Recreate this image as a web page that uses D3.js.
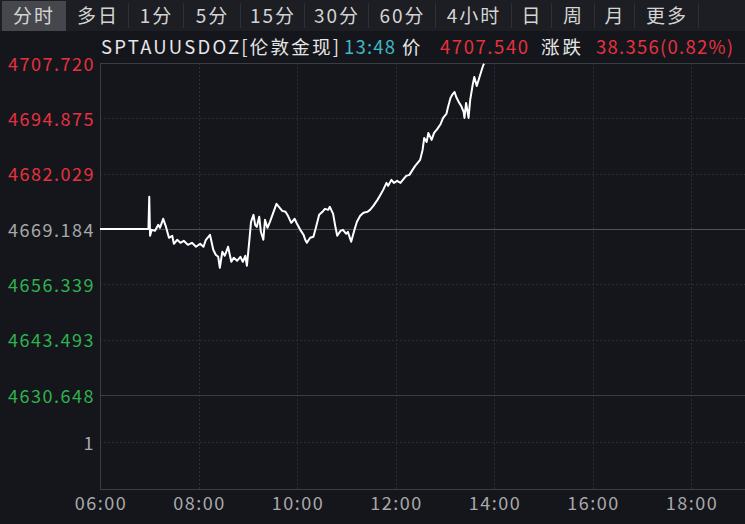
<!DOCTYPE html>
<html>
<head>
<meta charset="utf-8">
<script src="https://cdn.jsdelivr.net/npm/d3@7"></script>
<style>
  html, body { margin: 0; padding: 0; background: #14161b; overflow: hidden; }
  svg { display: block; font-family: "Noto Sans CJK SC", "Noto Sans", sans-serif; }
</style>
</head>
<body>
<script>
const w = 745, h = 524

// tabs across the top
const tabs = ['分时', '多日', '1分', '5分', '15分', '30分', '60分', '4小时', '日', '周', '月', '更多']
const tabEdges = [0, 66, 128, 183, 240, 304, 368, 435, 511, 551, 594, 634, 698]

// price axis labels and previous close
const prevClose = 4669.184
const priceTicks = [4707.720, 4694.875, 4682.029, 4669.184, 4656.339, 4643.493, 4630.648]
const volTicks = [1]
const timeTicks = ['06:00', '08:00', '10:00', '12:00', '14:00', '16:00', '18:00']

// header quote
const quoteParts = ['SPTAUUSDOZ[伦敦金现]', '13:48', '价', '4707.540', '涨跌', '38.356(0.82%)']
const quoteColors = ['#e6e6e6', '#3fb6c6', '#e6e6e6', '#e5323e', '#e6e6e6', '#e5323e']
const quoteX = [101, 344, 402, 440, 541, 596]
const quoteW = [238, 51, 18, 88, 40, 137]

// intraday prices (time, price)
const times = ['06:00', '06:59', '07:00', '07:01', '07:03', '07:07', '07:11', '07:13', '07:17', '07:20',
  '07:24', '07:28', '07:30', '07:34', '07:38', '07:42', '07:47', '07:52', '07:57', '08:02',
  '08:06', '08:09', '08:14', '08:18', '08:21', '08:24', '08:26', '08:29', '08:32', '08:36',
  '08:40', '08:43', '08:47', '08:51', '08:54', '08:57', '08:59', '09:02', '09:04', '09:07',
  '09:09', '09:11', '09:14', '09:16', '09:19', '09:21', '09:24', '09:27', '09:31', '09:35',
  '09:38', '09:42', '09:46', '09:49', '09:53', '09:57', '10:00', '10:04', '10:08', '10:10',
  '10:12', '10:16', '10:20', '10:23', '10:27', '10:31', '10:34', '10:38', '10:40', '10:44',
  '10:47', '10:49', '10:53', '10:56', '11:00', '11:02', '11:06', '11:10', '11:13', '11:17',
  '11:21', '11:26', '11:29', '11:33', '11:38', '11:41', '11:45', '11:49', '11:51', '11:55',
  '11:58', '12:02', '12:06', '12:09', '12:13', '12:17', '12:20', '12:24', '12:28', '12:30',
  '12:33', '12:35', '12:38', '12:40', '12:44', '12:47', '12:51', '12:55', '12:58', '13:02',
  '13:04', '13:07', '13:09', '13:12', '13:14', '13:17', '13:20', '13:23', '13:24', '13:26',
  '13:29', '13:31', '13:34', '13:36', '13:39', '13:42', '13:45', '13:47', '13:48']
const prices = [4669.184, 4669.184, 4676.65, 4667.60, 4668.99, 4668.76, 4670.15, 4669.46, 4671.55, 4669.92,
  4667.14, 4667.60, 4665.75, 4666.68, 4665.98, 4666.44, 4665.52, 4665.98, 4665.05, 4665.75,
  4665.05, 4666.68, 4667.83, 4664.36, 4663.20, 4662.73, 4660.18, 4663.89, 4662.97, 4665.05,
  4661.57, 4662.50, 4661.81, 4662.73, 4661.57, 4662.97, 4660.65, 4666.68, 4670.85, 4672.47,
  4670.15, 4669.69, 4672.01, 4668.53, 4666.68, 4671.31, 4669.46, 4670.85, 4672.94, 4675.02,
  4674.33, 4673.40, 4673.17, 4672.24, 4670.62, 4671.55, 4670.39, 4668.99, 4667.83, 4666.68,
  4665.98, 4667.14, 4667.37, 4669.46, 4672.47, 4673.17, 4673.86, 4673.63, 4674.33, 4672.70,
  4669.46, 4667.60, 4668.76, 4668.99, 4668.07, 4668.53, 4666.21, 4668.99, 4670.85, 4672.24,
  4672.94, 4673.17, 4673.63, 4674.56, 4675.95, 4676.88, 4678.27, 4679.89, 4679.20, 4680.59,
  4679.89, 4680.36, 4679.89, 4680.59, 4681.52, 4681.75, 4682.68, 4683.84, 4684.76, 4685.23,
  4687.55, 4690.33, 4689.40, 4691.49, 4689.86, 4691.49, 4692.42, 4693.57, 4694.97, 4695.89,
  4697.52, 4699.60, 4700.30, 4701.00, 4699.84, 4698.68, 4697.75, 4696.36, 4694.97, 4698.44,
  4694.97, 4699.14, 4702.62, 4704.47, 4702.39, 4704.24, 4706.10, 4707.26, 4707.54]

const parseTime = d3.timeParse('%H:%M')
const data = times.map((t, i) => ({ t: parseTime(t), p: prices[i] }))

const plotL = 100, plotR = w, plotT = 63, plotMid = 395, plotB = 489
const labelFont = '18px', labelSpacing = '1.5px'

const svg = d3.select('body').append('svg')
  .attr('width', w)
  .attr('height', h)

svg.append('rect').attr('width', w).attr('height', h).attr('fill', '#14161b')

const x = d3.scaleTime()
  .domain([parseTime('06:00'), parseTime('20:00')])
  .range([plotL, plotL + 14 * 49.25])
const y = d3.scaleLinear()
  .domain([priceTicks[priceTicks.length - 1], priceTicks[0]])
  .range([plotMid, plotT])
const yVol = d3.scaleLinear().domain([0, 2]).range([plotB, plotMid])

// ---- tab bar
svg.append('rect').attr('width', w).attr('height', 31).attr('fill', '#1c1e23')
svg.append('rect').attr('x', 2).attr('y', 1).attr('width', tabEdges[1] - 2).attr('height', 30).attr('fill', '#45474c')
const tab = svg.selectAll('.tab').data(tabs).enter().append('g').attr('class', 'tab')
tab.append('text')
  .attr('x', (d, i) => (tabEdges[i] + tabEdges[i + 1]) / 2 + 1)
  .attr('y', 23)
  .attr('text-anchor', 'middle')
  .attr('fill', '#d4d4d4')
  .style('font-size', '19px')
  .style('letter-spacing', '2px')
  .text(d => d)
tab.filter((d, i) => i > 0).append('line')
  .attr('x1', (d, i) => tabEdges[i + 2] + 0.5)
  .attr('x2', (d, i) => tabEdges[i + 2] + 0.5)
  .attr('y1', 3).attr('y2', 28)
  .attr('stroke', '#2e3036')

// ---- title row
svg.selectAll('.quote').data(quoteParts).enter().append('text')
  .attr('x', (d, i) => quoteX[i])
  .attr('y', 54)
  .attr('fill', (d, i) => quoteColors[i])
  .attr('textLength', (d, i) => quoteW[i])
  .attr('lengthAdjust', 'spacing')
  .style('font-size', '18.5px')
  .text(d => d)

// ---- grid
const grid = svg.append('g')
grid.selectAll('.hg').data(priceTicks.filter(d => d !== prevClose && d !== priceTicks[0] && d !== priceTicks[6]))
  .enter().append('line')
  .attr('x1', plotL).attr('x2', plotR)
  .attr('y1', d => Math.round(y(d)) + 0.5).attr('y2', d => Math.round(y(d)) + 0.5)
  .attr('stroke', '#2c2f37').attr('stroke-dasharray', '2,2')
grid.selectAll('.vg').data(volTicks).enter().append('line')
  .attr('x1', plotL).attr('x2', plotR)
  .attr('y1', d => Math.round(yVol(d)) + 0.5).attr('y2', d => Math.round(yVol(d)) + 0.5)
  .attr('stroke', '#2c2f37').attr('stroke-dasharray', '2,2')
grid.selectAll('.xg').data(timeTicks.slice(1)).enter().append('line')
  .attr('x1', d => Math.round(x(parseTime(d))) + 0.5).attr('x2', d => Math.round(x(parseTime(d))) + 0.5)
  .attr('y1', plotT).attr('y2', plotB)
  .attr('stroke', '#2c2f37').attr('stroke-dasharray', '2,2')

// frame lines
svg.append('line').attr('x1', plotL + 0.5).attr('x2', plotL + 0.5).attr('y1', plotT).attr('y2', plotB).attr('stroke', '#3b3e45')
svg.append('line').attr('x1', plotL).attr('x2', plotR).attr('y1', plotT + 0.5).attr('y2', plotT + 0.5).attr('stroke', '#3b3e45')
svg.append('line').attr('x1', plotL).attr('x2', plotR).attr('y1', plotMid + 0.5).attr('y2', plotMid + 0.5).attr('stroke', '#3b3e45')
svg.append('line').attr('x1', plotL).attr('x2', plotR).attr('y1', plotB + 0.5).attr('y2', plotB + 0.5).attr('stroke', '#3b3e45')
svg.append('line').attr('x1', plotL).attr('x2', plotR)
  .attr('y1', Math.round(y(prevClose)) + 0.5).attr('y2', Math.round(y(prevClose)) + 0.5)
  .attr('stroke', '#4e5158')

// ---- axes labels
const tickColor = d => d > prevClose ? '#e5323e' : d < prevClose ? '#2fb24f' : '#a9a9a9'
svg.selectAll('.ylab').data(priceTicks).enter().append('text')
  .attr('x', 95)
  .attr('y', d => y(d) + 7.5)
  .attr('text-anchor', 'end')
  .attr('fill', tickColor)
  .style('font-size', labelFont)
  .style('letter-spacing', labelSpacing)
  .text(d => d.toFixed(3))
svg.selectAll('.vlab').data(volTicks).enter().append('text')
  .attr('x', 95)
  .attr('y', d => yVol(d) + 7.5)
  .attr('text-anchor', 'end')
  .attr('fill', '#a9a9a9')
  .style('font-size', labelFont)
  .style('letter-spacing', labelSpacing)
  .text(d => d)
svg.selectAll('.xlab').data(timeTicks).enter().append('text')
  .attr('x', d => x(parseTime(d)) + 1)
  .attr('y', 510)
  .attr('text-anchor', 'middle')
  .attr('fill', '#a9a9a9')
  .style('font-size', labelFont)
  .style('letter-spacing', labelSpacing)
  .text(d => d)

// ---- price line
const line = d3.line().x(d => x(d.t)).y(d => y(d.p))
svg.append('path')
  .datum(data)
  .attr('d', line)
  .attr('fill', 'none')
  .attr('stroke', '#ffffff')
  .attr('stroke-width', 2)
  .attr('stroke-linejoin', 'round')
</script>
</body>
</html>
